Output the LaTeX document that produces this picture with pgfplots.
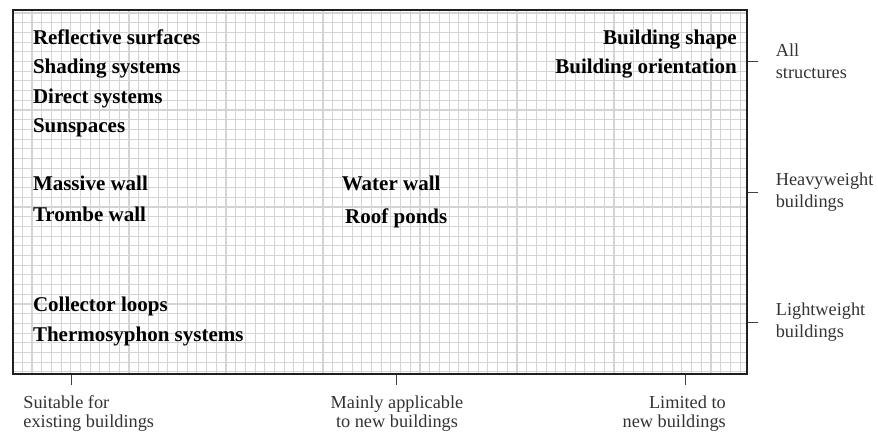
\documentclass[border=0pt]{standalone}
\usepackage{pgfplots}
\pgfplotsset{compat=1.18}
\usepackage{fontspec}
\setmainfont{Liberation Serif}
\definecolor{gridgray}{HTML}{D4D4D4}
\definecolor{labgray}{HTML}{333333}
\begin{document}
\begin{tikzpicture}[x=1pt,y=1pt]
\begin{axis}[
  at={(0,0)}, anchor=south west,
  scale only axis, width=734pt, height=363.7pt,
  xmin=0, xmax=734, ymin=0, ymax=363.7,
  axis line style={draw=black!88, line width=1.8pt},
  xtick={57.7,382.7,671.7}, xticklabels={},
  ytick={51.7,181.7,312.7},
  yticklabels={{Lightweight\\buildings},{Heavyweight\\buildings},{All\\structures}},
  ytick pos=right, yticklabel pos=right, xtick pos=bottom,
  tick align=outside, major tick length=11pt,
  tick style={draw=black!75, line width=0.8pt},
  minor xtick={9,18.7,...,734}, minor ytick={1.8,11.5,...,363.7},
  minor tick length=0pt,
  grid=minor,
  minor grid style={draw=gridgray, line width=1.1pt},
  yticklabel style={anchor=west, align=left, text=labgray, xshift=14pt,
    font=\fontsize{18.3}{22}\selectfont},
  clip=false,
  every node near coord/.style={font=\fontsize{21}{25}\selectfont\bfseries, text=black, inner sep=0pt},
]
% left-aligned bold labels
\addplot[draw=none, mark=none, nodes near coords, point meta=explicit symbolic,
  every node near coord/.append style={anchor=base west}]
coordinates {
  (19.5,328.7) [Reflective surfaces]
  (19.5,299.7) [Shading systems]
  (19.5,269.7) [Direct systems]
  (19.5,241.4) [Sunspaces]
  (19.5,183.0) [Massive wall]
  (19.5,152.0) [Trombe wall]
  (19.5,62.0) [Collector loops]
  (19.5,32.0) [Thermosyphon systems]
  (328.4,183.0) [Water wall]
  (331.7,149.7) [Roof ponds]
};
% right-aligned bold labels
\addplot[draw=none, mark=none, nodes near coords, point meta=explicit symbolic,
  every node near coord/.append style={anchor=base east}]
coordinates {
  (723.7,328.7) [Building shape]
  (723.7,300.4) [Building orientation]
};
% bottom category labels
\begin{scope}[every node/.style={font=\fontsize{18.3}{22}\selectfont, text=labgray, inner sep=0pt}]
\node[anchor=base west] at (axis cs:9.9,-34.3) {Suitable for};
\node[anchor=base west] at (axis cs:9.9,-53.3) {existing buildings};
\node[anchor=base] at (axis cs:383.7,-34.3) {Mainly applicable};
\node[anchor=base] at (axis cs:383.7,-53.3) {to new buildings};
\node[anchor=base east] at (axis cs:712.7,-34.3) {Limited to};
\node[anchor=base east] at (axis cs:712.7,-53.3) {new buildings};
\end{scope}
\end{axis}
\path (-13.3,-60.3) rectangle (864.7,373.7);
\end{tikzpicture}
\end{document}
